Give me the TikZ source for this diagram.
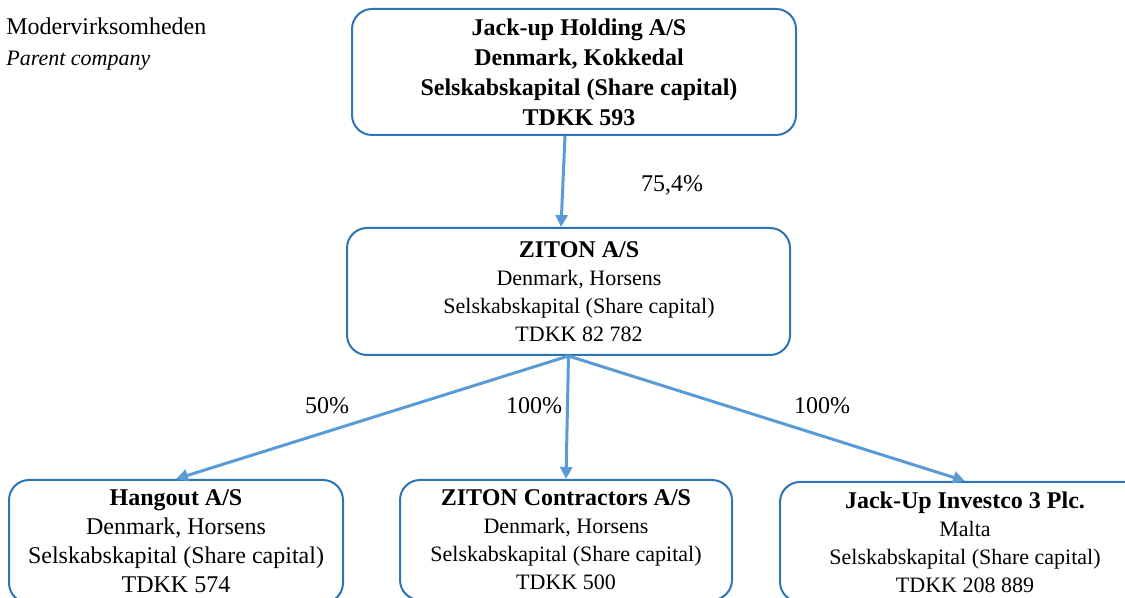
\documentclass[tikz,border=0pt]{standalone}
\usepackage{fontspec}
\setmainfont{Liberation Serif}
\usepackage{tikz}
\usetikzlibrary{arrows.meta}
\definecolor{boxblue}{RGB}{46,117,182}
\definecolor{arrowblue}{RGB}{91,155,213}
\newcommand{\padln}[1]{\hspace*{#1}}

\begin{document}
\begin{tikzpicture}[
	x=0.5pt,
	y=-0.5pt,
	>={Triangle[length=6pt,width=6pt]},
	company/.style={draw=boxblue, line width=1pt, rounded corners=10pt, align=center, inner sep=0pt},
	own/.style={->, draw=arrowblue, line width=1.5pt},
	share/.style={font=\fontsize{12}{14}\selectfont}
  ]

  \useasboundingbox (0,0) rectangle (1125,598);

  \node[anchor=base west, inner sep=0pt, font=\fontsize{12}{14}\selectfont] (mother) at (6,35) {Modervirksomheden};
  \node[anchor=base west, inner sep=0pt, font=\fontsize{11}{14}\selectfont\itshape] (parent) at (6,66) {Parent company};

  \node[company, minimum width=222pt, minimum height=63pt, font=\fontsize{12}{15}\selectfont\bfseries] (holding) at (574,72)
	{\padln{5pt}Jack-up Holding A/S\\ \padln{5pt}Denmark, Kokkedal\\ \padln{5pt}Selskabskapital (Share capital)\\ \padln{5pt}TDKK 593};

  \node[company, minimum width=221.5pt, minimum height=63.5pt, font=\fontsize{11}{14}\selectfont] (ziton) at (568.5,291.5)
	{\padln{10.5pt}{\fontsize{12}{14}\selectfont\bfseries ZITON A/S}\\ \padln{10.5pt}Denmark, Horsens\\ \padln{10.5pt}Selskabskapital (Share capital)\\ \padln{10.5pt}TDKK 82 782};

  \node[company, anchor=north, minimum width=167pt, minimum height=61.5pt, font=\fontsize{12}{14.5}\selectfont] (hangout) at (176,479)
	{\textbf{Hangout A/S}\\ Denmark, Horsens\\ Selskabskapital (Share capital)\\ TDKK 574};

  \node[company, anchor=north, minimum width=166pt, minimum height=60pt, font=\fontsize{11}{14}\selectfont] (contractors) at (566,479)
	{{\fontsize{12}{14}\selectfont\bfseries ZITON Contractors A/S}\\ Denmark, Horsens\\ Selskabskapital (Share capital)\\ TDKK 500};

  \node[company, anchor=north, minimum width=185pt, minimum height=60pt, font=\fontsize{11}{14}\selectfont] (investco) at (965,481)
	{{\fontsize{12}{14}\selectfont\bfseries Jack-Up Investco 3 Plc.}\\ Malta\\ Selskabskapital (Share capital)\\ TDKK 208 889};

  % ownership
  \draw[own] ([xshift=-4.5pt]holding.south) -- ([xshift=-3.75pt]ziton.north);
  \draw[own] (ziton.south) -- (hangout.north);
  \draw[own] (ziton.south) -- (contractors.north);
  \draw[own] (ziton.south) -- (investco.north);

  \node[share, anchor=base] (p754) at (672,192) {75,4\%};
  \node[share, anchor=base] (p50) at (327,414) {50\%};
  \node[share, anchor=base] (p100a) at (534,414) {100\%};
  \node[share, anchor=base] (p100b) at (822,414) {100\%};

\end{tikzpicture}
\end{document}
